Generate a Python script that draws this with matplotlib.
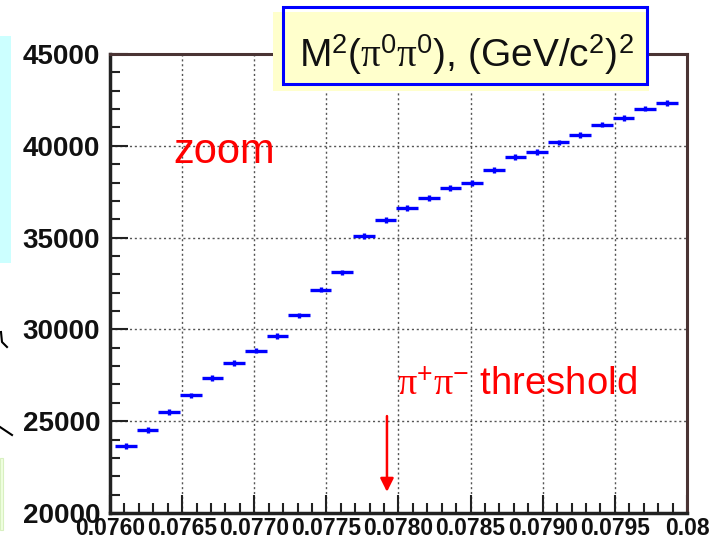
import matplotlib
matplotlib.use("Agg")
import matplotlib.pyplot as plt
from matplotlib.patches import Rectangle
from matplotlib.lines import Line2D
from matplotlib.ticker import MultipleLocator, FixedFormatter, FixedLocator

# bin centres (GeV/c^2)^2 and counts
m2 = [0.07611, 0.07626, 0.07641, 0.07656, 0.07671, 0.07686, 0.07701, 0.07716,
      0.07731, 0.07746, 0.07761, 0.07776, 0.07791, 0.07806, 0.07821, 0.07836,
      0.07851, 0.07866, 0.07881, 0.07896, 0.07911, 0.07926, 0.07941, 0.07956,
      0.07971, 0.07986]
counts = [23660, 24530, 25500, 26400, 27330, 28150, 28850, 29620,
          30760, 32170, 33100, 35100, 35980, 36610, 37140, 37690,
          37975, 38700, 39390, 39670, 40180, 40580, 41160, 41500,
          42030, 42320]
bin_half = 0.000075
count_err = [160] * len(counts)

xticks = [0.0760, 0.0765, 0.0770, 0.0775, 0.0780, 0.0785, 0.0790, 0.0795, 0.0800]
xlabels = ["0.0760", "0.0765", "0.0770", "0.0775", "0.0780", "0.0785", "0.0790", "0.0795", "0.08"]
yticks = [20000, 25000, 30000, 35000, 40000, 45000]

W, H = 716, 539
plt.rcParams['font.family'] = ['Liberation Sans', 'DejaVu Sans']
plt.rcParams['mathtext.fontset'] = 'custom'
plt.rcParams['mathtext.rm'] = 'Liberation Serif'
plt.rcParams['mathtext.sf'] = 'Liberation Sans'
plt.rcParams['mathtext.it'] = 'Liberation Serif:italic'

fig = plt.figure(figsize=(W / 100, H / 100), dpi=100)
ax = fig.add_axes([110 / W, 1 - 513 / H, 577 / W, 459 / H])


def px(x, y):
    return x / W, 1 - y / H


# slide leftovers around the plot
fig.patches.append(Rectangle(px(0, 263), 11 / W, 227 / H, transform=fig.transFigure,
                             facecolor='#ccffff', edgecolor='none'))
fig.patches.append(Rectangle(px(0, 530), 3 / W, 72 / H, transform=fig.transFigure,
                             facecolor='#f0ffe0', edgecolor='#d8f0c0', lw=0.8))
fig.lines.append(Line2D([1 / W, 2 / W, 7 / W], [1 - 332 / H, 1 - 342 / H, 1 - 347 / H],
                        transform=fig.transFigure, color='black', lw=1.5))
fig.lines.append(Line2D([0, 12 / W], [1 - 427 / H, 1 - 435 / H], transform=fig.transFigure,
                        color='black', lw=1.5))

ax.errorbar(m2, counts, xerr=bin_half, yerr=count_err, fmt='none',
            ecolor='#0000ff', elinewidth=2.4, capsize=0, zorder=3)

ax.set_xlim(0.0760, 0.0800)
ax.set_ylim(20000, 45000)

ax.xaxis.set_major_locator(FixedLocator(xticks))
ax.xaxis.set_major_formatter(FixedFormatter(xlabels))
ax.xaxis.set_minor_locator(MultipleLocator(0.0001))
ax.yaxis.set_major_locator(FixedLocator(yticks))
ax.yaxis.set_minor_locator(MultipleLocator(1000))

ax.tick_params(which='both', direction='in', top=False, right=False, width=1.5, colors='#222222')
ax.tick_params(which='major', length=13)
ax.tick_params(which='minor', length=7)
ax.tick_params(axis='y', which='major', labelsize=20, pad=7)
ax.tick_params(axis='x', which='major', labelsize=16.5, pad=3)
for lab in ax.get_xticklabels() + ax.get_yticklabels():
    lab.set_fontweight('bold')
    lab.set_color('#111111')

ax.grid(True, which='major', color='#555555', linestyle=(0, (1.5, 2)), linewidth=1)

for side in ['left', 'bottom']:
    ax.spines[side].set_linewidth(2.5)
    ax.spines[side].set_color('#222222')
for side in ['top', 'right']:
    ax.spines[side].set_linewidth(2.2)
    ax.spines[side].set_color('#4a3434')

# title box
fig.patches.append(Rectangle(px(273, 91), 376 / W, 79 / H, transform=fig.transFigure,
                             facecolor='#ffffcc', edgecolor='none', zorder=5))
fig.patches.append(Rectangle(px(283, 84), 364 / W, 77 / H, transform=fig.transFigure,
                             facecolor='none', edgecolor='#0000ff', lw=2.2, zorder=6))
title = (r'M$^{\mathsf{2}}$($\mathrm{\pi}^{\mathsf{0}}\mathrm{\pi}^{\mathsf{0}}$), '
         r'(GeV/c$^{\mathsf{2}}$)$^{\mathsf{2}}$')
fig.text(*px(466, 55), title, fontsize=28, ha='center', va='center',
         color='#111111', zorder=7)

ax.text(0.07644, 39650, 'zoom', color='#ff0000', fontsize=30, ha='left', va='center')
ax.text(0.07799, 26950, r'$\mathrm{\pi}^{\mathsf{+}}\mathrm{\pi}^{\mathsf{-}}$ threshold',
        color='#ff0000', fontsize=27.5, ha='left', va='center')
ax.annotate('', xy=(0.07792, 21000), xytext=(0.07792, 25430),
            arrowprops=dict(arrowstyle='-|>', color='#ff0000', lw=1.8, mutation_scale=20))

fig.savefig('out.png', dpi=100)
